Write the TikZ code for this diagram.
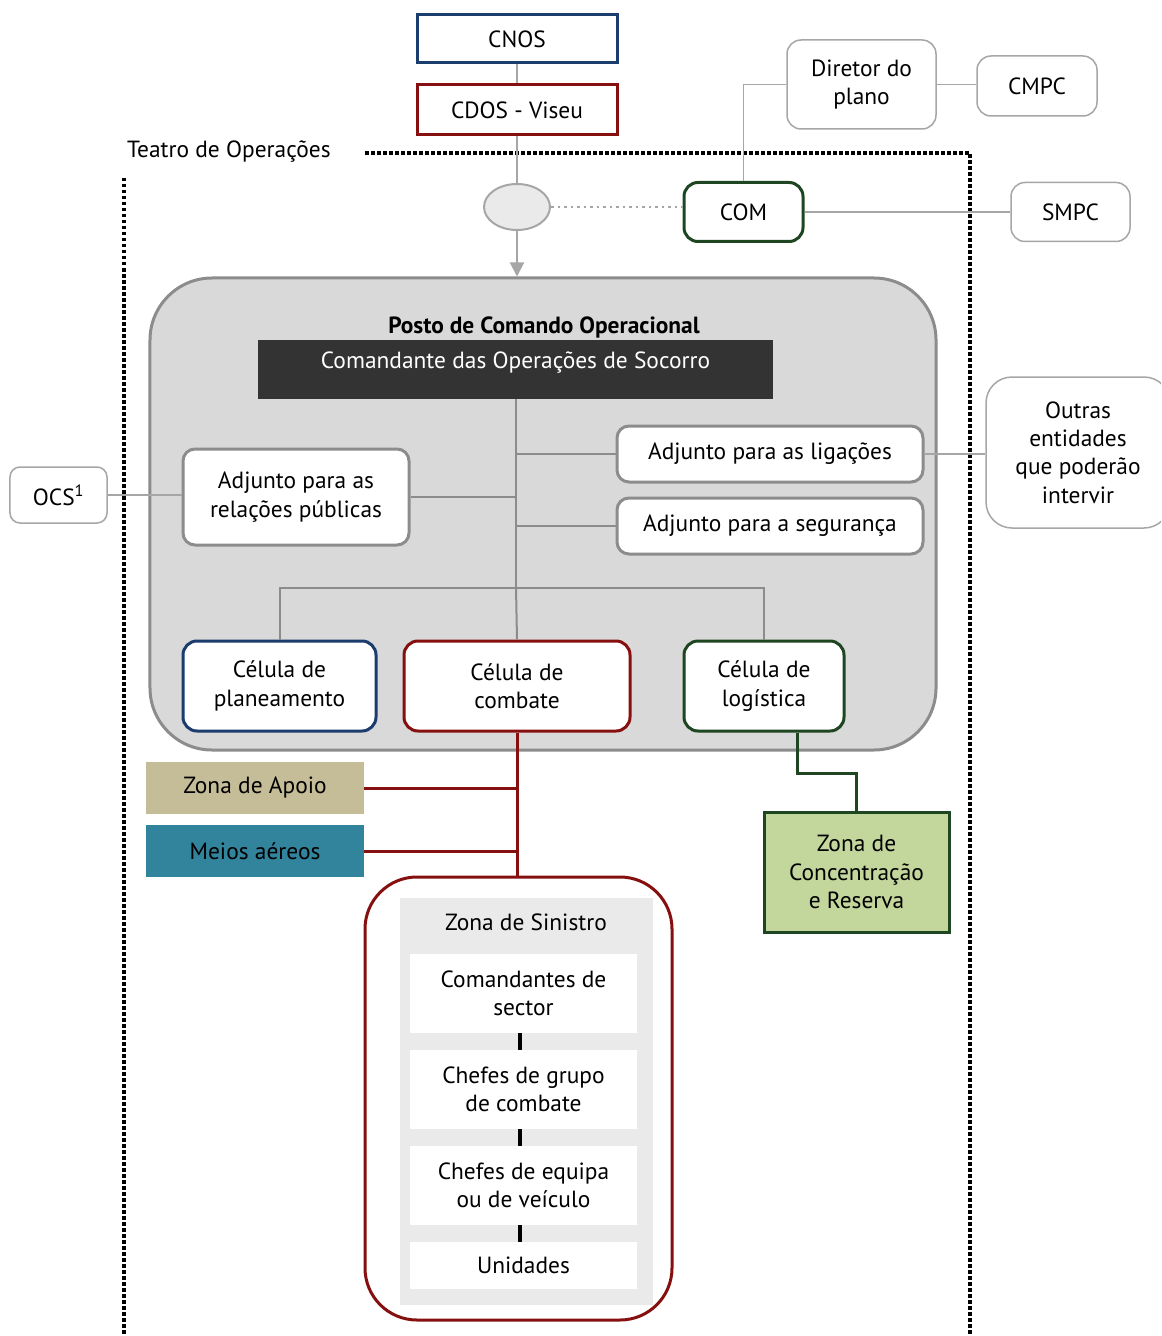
\documentclass[tikz,border=0pt]{standalone}
\usepackage{fontspec}
\setmainfont{PT Sans}
\usetikzlibrary{shapes.geometric,arrows.meta}
\definecolor{navy}{HTML}{1B3D6E}
\definecolor{wine}{HTML}{861010}
\definecolor{forest}{HTML}{1E4620}
\definecolor{linegray}{HTML}{8C8C8C}
\definecolor{thingray}{HTML}{A6A6A6}
\definecolor{panel}{HTML}{D9D9D9}
\definecolor{zspanel}{HTML}{EAEAEA}
\definecolor{apoiofill}{HTML}{C4BD97}
\definecolor{aereofill}{HTML}{31849B}
\definecolor{zcrfill}{HTML}{C3D69B}
\definecolor{cmdfill}{HTML}{333333}
\begin{document}
\begin{tikzpicture}[x=1bp,y=-1bp,
  every node/.style={font=\fontsize{23.5}{28.5}\selectfont, align=center, inner sep=0pt},
  sharpbox/.style={draw=#1, line width=3bp, fill=white},
  cellbox/.style={draw=#1, line width=3bp, fill=white, rounded corners=14bp},
  adjbox/.style={draw=linegray, line width=3bp, fill=white, rounded corners=12bp},
  extbox/.style={draw=thingray, line width=1.5bp, fill=white, rounded corners=14bp},
  flatbox/.style={fill=#1},
  link/.style={draw=thingray, line width=1.5bp},
  trunk/.style={draw=linegray, line width=2bp},
  redlink/.style={draw=wine, line width=3bp},
  greenlink/.style={draw=forest, line width=3bp},
  frame/.style={line width=3.5bp, dash pattern=on 3.5bp off 2.5bp},
  tick/.style={line width=4bp}
]
\useasboundingbox (0,0) rectangle (1161,1336);
\clip (0,0) rectangle (1161,1336);

% Theatre of operations frame
\node[anchor=west] (teatro) at (127,152) {Teatro de Operações};
\draw[frame] (365,153) -- (970,153) -- (970,1340);
\draw[frame] (124,178) -- (124,1340);

% Command post background
\node[draw=linegray, fill=panel, line width=3bp, rounded corners=62bp,
      minimum width=786bp, minimum height=472bp] (pco) at (543,514) {};

% Upper chain
\node[sharpbox=navy, minimum width=200bp, minimum height=48bp] (cnos) at (517,39) {CNOS};
\node[sharpbox=wine, minimum width=200bp, minimum height=50bp] (cdos) at (517,110) {CDOS - Viseu};
\node[ellipse, draw=thingray, line width=2bp, fill=zspanel,
      minimum width=66bp, minimum height=46bp] (hub) at (517,207) {};
\node[cellbox=forest, minimum width=119bp, minimum height=59bp] (com) at (743.5,212) {COM};
\node[extbox, minimum width=149bp, minimum height=89bp] (dir) at (861.5,84.5) {Diretor do\\plano};
\node[extbox, minimum width=120bp, minimum height=60bp] (cmpc) at (1037,86) {CMPC};
\node[extbox, minimum width=119bp, minimum height=59bp] (smpc) at (1070.5,212) {SMPC};

\draw[link] (cnos) -- (cdos);
\draw[link] (cdos) -- (hub);
\draw[draw=thingray, line width=2bp, -{Triangle[length=14bp,width=14bp]}] (hub.south) -- (hub.south |- pco.north);
\draw[thingray, line width=2.5bp, dash pattern=on 2.5bp off 4bp] (hub.east) -- (hub.east -| com.west);
\draw[link] (com.north) |- (dir.west);
\draw[link] (dir.east) -- (dir.east -| cmpc.west);
\draw[link] (com.east) -- (smpc.west);

% Command post contents
\node[font=\fontsize{23.5}{28.5}\selectfont\bfseries] (pcotitle) at (544,327) {Posto de Comando Operacional};
\node[flatbox=cmdfill, minimum width=515bp, minimum height=59bp] (cmd) at (515.5,369.5) {};
\node[text=white] (cmdtext) at (515.5,363) {Comandante das Operações de Socorro};
\coordinate (branch) at (516,588);

\node[adjbox, minimum width=306bp, minimum height=56bp] (lig) at (770,454) {Adjunto para as ligações};
\node[adjbox, minimum width=306bp, minimum height=56bp] (seg) at (770,526) {Adjunto para a segurança};
\node[adjbox, minimum width=226bp, minimum height=96bp] (rp) at (296,497) {Adjunto para as\\relações públicas};
\node[extbox, minimum width=97bp, minimum height=56bp, rounded corners=10bp] (ocs) at (58.5,495) {OCS\textsuperscript{1}};
\node[extbox, minimum width=184bp, minimum height=151bp, rounded corners=26bp] (outras) at (1078,452.5) {Outras\\entidades\\que poderão\\intervir};

\node[cellbox=navy, minimum width=193bp, minimum height=90bp] (plan) at (279.5,686) {Célula de\\planeamento};
\node[cellbox=wine, minimum width=226bp, minimum height=90bp] (comb) at (517,686) {Célula de\\combate};
\node[cellbox=forest, minimum width=160bp, minimum height=90bp] (logi) at (764,686) {Célula de\\logística};

\draw[trunk] (cmd.south -| branch) -- (branch);
\draw[trunk] (lig.west) -- (lig.west -| branch);
\draw[trunk] (seg.west) -- (seg.west -| branch);
\draw[trunk] (rp.east) -- (rp.east -| branch);
\draw[trunk] (branch) -| (plan.north);
\draw[trunk] (branch) -- (comb.north);
\draw[trunk] (branch) -| (logi.north);
\draw[link] (ocs.east) -- (rp.west |- ocs.east);
\draw[link] (lig.east) -- (lig.east -| outras.west);

% Zones
\node[flatbox=apoiofill, minimum width=218bp, minimum height=52bp] (apoio) at (255,788) {Zona de Apoio};
\node[flatbox=aereofill, minimum width=218bp, minimum height=52bp] (aereos) at (255,851) {Meios aéreos};
\node[draw=forest, line width=3bp, fill=zcrfill, minimum width=185bp, minimum height=120bp] (zcr) at (856.5,872) {Zona de\\Concentração\\e Reserva};

\node[draw=wine, line width=3bp, fill=white, rounded corners=52bp,
      minimum width=307bp, minimum height=443bp] (zs) at (518.5,1098.5) {};
\node[flatbox=zspanel, minimum width=253bp, minimum height=407bp] (zsp) at (526.5,1101.5) {};
\node (zstitle) at (526,922) {Zona de Sinistro};
\node[flatbox=white, minimum width=227bp, minimum height=79bp] (s1) at (523.5,993.5) {Comandantes de\\sector};
\node[flatbox=white, minimum width=227bp, minimum height=79bp] (s2) at (523.5,1089.5) {Chefes de grupo\\de combate};
\node[flatbox=white, minimum width=227bp, minimum height=79bp] (s3) at (523.5,1185.5) {Chefes de equipa\\ou de veículo};
\node[flatbox=white, minimum width=227bp, minimum height=47bp] (s4) at (523.5,1265.5) {Unidades};
\draw[tick] ([xshift=-3.5bp]s1.south) -- ([xshift=-3.5bp]s2.north);
\draw[tick] ([xshift=-3.5bp]s2.south) -- ([xshift=-3.5bp]s3.north);
\draw[tick] ([xshift=-3.5bp]s3.south) -- ([xshift=-3.5bp]s4.north);

\draw[redlink] (comb.south) -- (zs.north -| comb.south);
\draw[redlink] (apoio.east) -- (apoio.east -| comb.south);
\draw[redlink] (aereos.east) -- (aereos.east -| comb.south);
\draw[greenlink] ([xshift=33bp]logi.south) -- ++(0,41) -| (zcr.north);
\end{tikzpicture}
\end{document}
